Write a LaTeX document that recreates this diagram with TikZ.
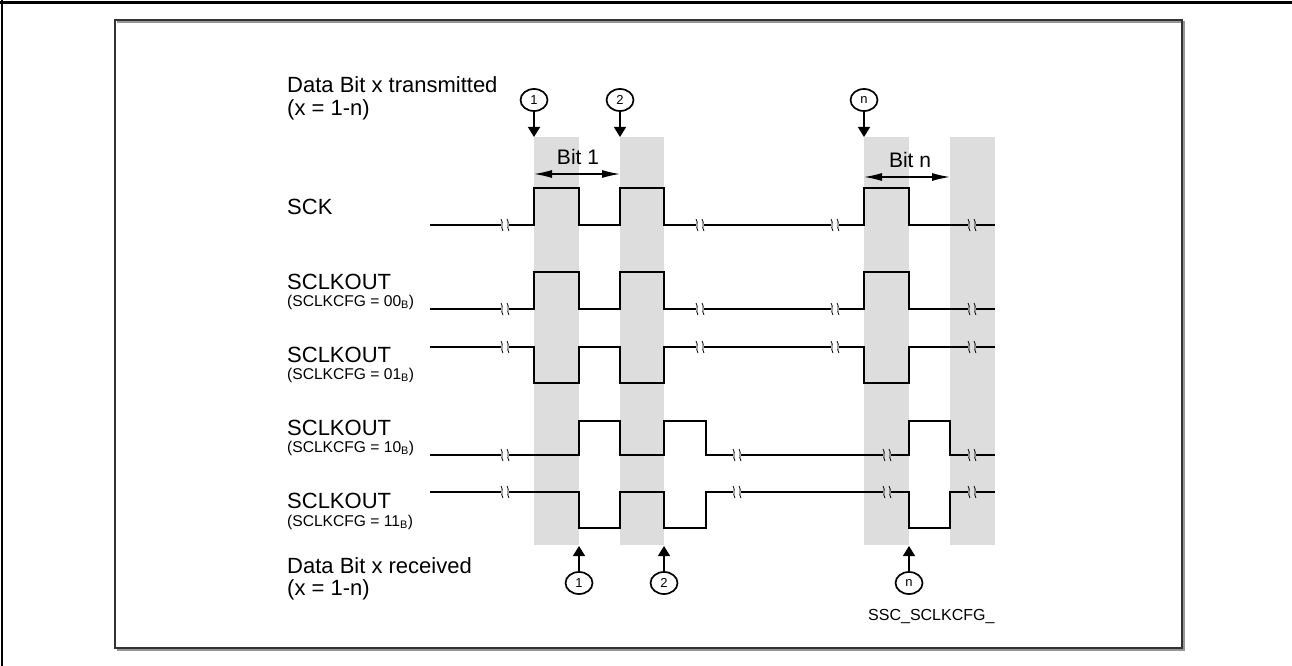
\documentclass[tikz,border=0pt]{standalone}
\usepackage{fontspec}
\setmainfont{Liberation Sans}
\usetikzlibrary{arrows.meta,shapes.geometric}
\definecolor{bandgray}{RGB}{221,221,221}
\definecolor{framegray}{RGB}{50,50,50}
\definecolor{shadowgray}{RGB}{150,150,150}
\newcommand\brkmark[2]{%
  \draw[breakline] (#1-4,#2-6) .. controls (#1-1,#2-2) and (#1-5,#2+2) .. (#1-2,#2+6);
  \draw[breakline] (#1+2,#2-6) .. controls (#1+5,#2-2) and (#1+1,#2+2) .. (#1+4,#2+6);}
\begin{document}
\begin{tikzpicture}[x=1pt,y=-1pt,
  sig/.style={line width=2.7pt,line join=miter},
  breakline/.style={line width=0.8pt},
  band/.style={fill=bandgray,draw=none},
  lbl/.style={anchor=base west,inner sep=0pt,font=\fontsize{22}{24}\selectfont},
  sublbl/.style={anchor=base west,inner sep=0pt,font=\fontsize{15.6}{17}\selectfont},
  bitlbl/.style={anchor=base,inner sep=0pt,font=\fontsize{21}{24}\selectfont},
  circ/.style={ellipse,draw,line width=1.7pt,minimum width=27pt,minimum height=22pt,inner sep=0pt,font=\fontsize{13}{14}\selectfont},
  pointer/.style={line width=1.4pt,-{Triangle[length=10pt,width=12pt]}},
  bitspan/.style={line width=1.3pt,{Latex[length=18pt,width=8pt]}-{Latex[length=18pt,width=8pt]}}]
\useasboundingbox (0,0) rectangle (1292,666);
% frames
\draw[line width=3pt] (0,3) -- (1292,3);
\draw[line width=2pt] (2,0) -- (2,666);
\draw[shadowgray,line width=1.5pt] (117,22) -- (1184,22) -- (1184,650) -- (117,650);
\draw[framegray,line width=1.6pt] (115,20) rectangle (1182,648);
% bands
\fill[band] (534,137) rectangle (579,545);
\fill[band] (620,137) rectangle (664,545);
\fill[band] (864,137) rectangle (909,545);
\fill[band] (950,137) rectangle (995,545);
% labels
\node[lbl] (ltx) at (287,93) {Data Bit x transmitted};
\node[lbl] (ltx2) at (287,116) {(x = 1-n)};
\node[lbl] (lsck) at (287,214) {SCK};
\node[lbl] (l00) at (287,289) {SCLKOUT};
\node[sublbl] (s00) at (287,306) {(SCLKCFG = 00\textsubscript{B})};
\node[lbl] (l01) at (287,362) {SCLKOUT};
\node[sublbl] (s01) at (287,379) {(SCLKCFG = 01\textsubscript{B})};
\node[lbl] (l10) at (287,435) {SCLKOUT};
\node[sublbl] (s10) at (287,452) {(SCLKCFG = 10\textsubscript{B})};
\node[lbl] (l11) at (287,508) {SCLKOUT};
\node[sublbl] (s11) at (287,526) {(SCLKCFG = 11\textsubscript{B})};
\node[lbl] (lrx) at (287,573) {Data Bit x received};
\node[lbl] (lrx2) at (287,595) {(x = 1-n)};
\node[sublbl,font=\fontsize{16}{18}\selectfont] (fig) at (868,620) {SSC\_SCLKCFG\_};
% transmit markers
\node[circ] (t1) at (534,100) {1};
\node[circ] (t2) at (620,100) {2};
\node[circ] (tn) at (864,100) {n};
\coordinate (t1e) at (534,137);
\coordinate (t2e) at (620,137);
\coordinate (tne) at (864,137);
\draw[pointer] (t1) -- (t1e);
\draw[pointer] (t2) -- (t2e);
\draw[pointer] (tn) -- (tne);
% receive markers
\node[circ] (r1) at (579,583) {1};
\node[circ] (r2) at (664,583) {2};
\node[circ] (rn) at (909,583) {n};
\coordinate (r1e) at (579,546);
\coordinate (r2e) at (664,546);
\coordinate (rne) at (909,546);
\draw[pointer] (r1) -- (r1e);
\draw[pointer] (r2) -- (r2e);
\draw[pointer] (rn) -- (rne);
% bit spans
\coordinate (b1a) at (534,174);
\coordinate (b1b) at (620,174);
\coordinate (bna) at (864,177);
\coordinate (bnb) at (950,177);
\draw[bitspan] (b1a) -- (b1b);
\draw[bitspan] (bna) -- (bnb);
\node[bitlbl] (bit1) at (578,164) {Bit 1};
\node[bitlbl] (bitn) at (910,167) {Bit n};
% SCK
\draw[sig] (430,225) -- (501,225);
\draw[sig] (509,225) -- (534,225) -- (534,188) -- (579,188) -- (579,225) -- (620,225) -- (620,188) -- (664,188) -- (664,225) -- (696,225);
\draw[sig] (704,225) -- (831,225);
\draw[sig] (839,225) -- (864,225) -- (864,188) -- (909,188) -- (909,225) -- (968,225);
\draw[sig] (976,225) -- (995,225);
\brkmark{505}{225}\brkmark{700}{225}\brkmark{835}{225}\brkmark{972}{225}
% SCLKOUT 00
\draw[sig] (430,309) -- (501,309);
\draw[sig] (509,309) -- (534,309) -- (534,272) -- (579,272) -- (579,309) -- (620,309) -- (620,272) -- (664,272) -- (664,309) -- (696,309);
\draw[sig] (704,309) -- (831,309);
\draw[sig] (839,309) -- (864,309) -- (864,272) -- (909,272) -- (909,309) -- (968,309);
\draw[sig] (976,309) -- (995,309);
\brkmark{505}{309}\brkmark{700}{309}\brkmark{835}{309}\brkmark{972}{309}
% SCLKOUT 01
\draw[sig] (430,347) -- (501,347);
\draw[sig] (509,347) -- (534,347) -- (534,383) -- (579,383) -- (579,347) -- (620,347) -- (620,383) -- (664,383) -- (664,347) -- (696,347);
\draw[sig] (704,347) -- (831,347);
\draw[sig] (839,347) -- (864,347) -- (864,383) -- (909,383) -- (909,347) -- (968,347);
\draw[sig] (976,347) -- (995,347);
\brkmark{505}{347}\brkmark{700}{347}\brkmark{835}{347}\brkmark{972}{347}
% SCLKOUT 10
\draw[sig] (430,455) -- (501,455);
\draw[sig] (509,455) -- (579,455) -- (579,421) -- (620,421) -- (620,455) -- (664,455) -- (664,421) -- (706,421) -- (706,455) -- (733,455);
\draw[sig] (741,455) -- (883,455);
\draw[sig] (891,455) -- (909,455) -- (909,421) -- (950,421) -- (950,455) -- (968,455);
\draw[sig] (976,455) -- (995,455);
\brkmark{505}{455}\brkmark{737}{455}\brkmark{887}{455}\brkmark{972}{455}
% SCLKOUT 11
\draw[sig] (430,492) -- (501,492);
\draw[sig] (509,492) -- (579,492) -- (579,528) -- (620,528) -- (620,492) -- (664,492) -- (664,528) -- (706,528) -- (706,492) -- (733,492);
\draw[sig] (741,492) -- (883,492);
\draw[sig] (891,492) -- (909,492) -- (909,528) -- (950,528) -- (950,492) -- (968,492);
\draw[sig] (976,492) -- (995,492);
\brkmark{505}{492}\brkmark{737}{492}\brkmark{887}{492}\brkmark{972}{492}
\end{tikzpicture}
\end{document}
